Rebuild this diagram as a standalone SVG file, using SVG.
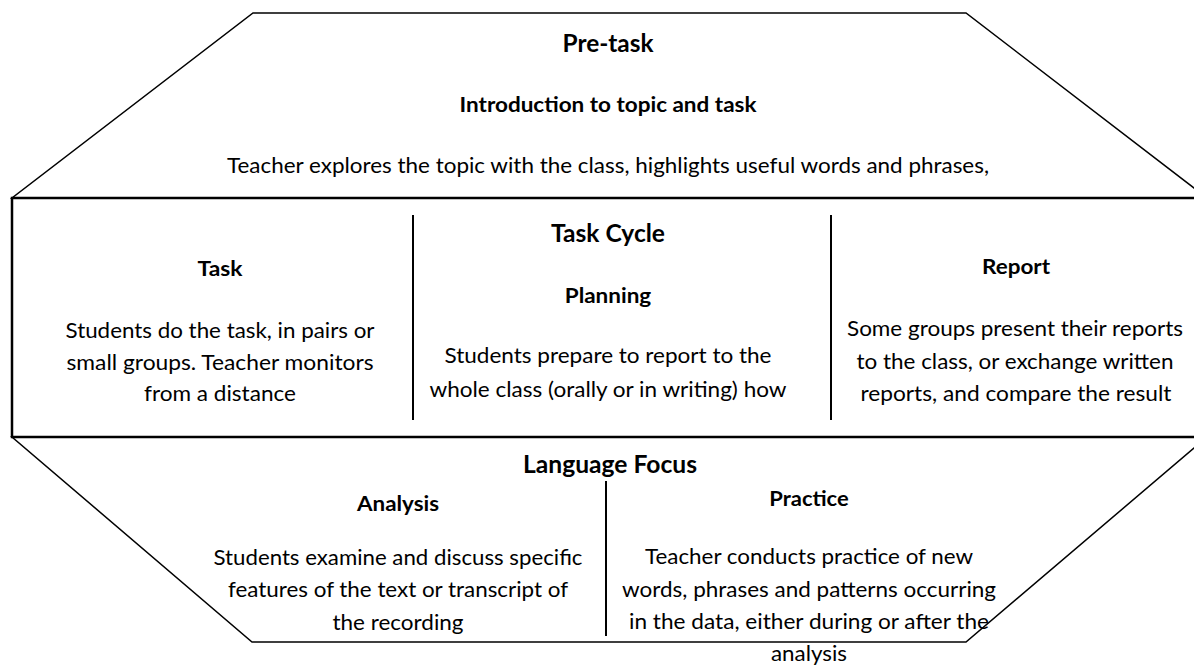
<svg xmlns="http://www.w3.org/2000/svg" width="1194" height="668" viewBox="0 0 1194 668">
  <style>
    .shape { fill: #ffffff; stroke: #000000; stroke-width: 1.5; stroke-linejoin: miter; }
    .box { fill: none; stroke: #000000; stroke-width: 2.5; }
    .div { stroke: #000000; stroke-width: 2; }
    text { font-family: Lato, "Open Sans", "Liberation Sans", sans-serif; fill: #000000; text-anchor: middle; }
    .t { font-size: 21.6px; }
    .h { font-size: 21.6px; font-weight: bold; }
    .hh { font-size: 24px; font-weight: bold; }
  </style>
  <rect x="0" y="0" width="1194" height="668" fill="#ffffff"/>

  <g id="pre-task">
    <path class="shape" d="M253,13 L966,13 L1207,198 L12,198 Z"/>
    <text class="hh" x="608" y="52" textLength="91" lengthAdjust="spacingAndGlyphs">Pre-task</text>
    <text class="h" x="608" y="112" textLength="297" lengthAdjust="spacingAndGlyphs">Introduction to topic and task</text>
    <text class="t" x="608" y="173" textLength="762" lengthAdjust="spacingAndGlyphs">Teacher explores the topic with the class, highlights useful words and phrases,</text>
  </g>

  <g id="language-focus">
    <path class="shape" d="M12,437 L1207,437 L966,642 L252,642 Z"/>
    <line class="div" x1="606" y1="481" x2="606" y2="636"/>
    <text class="hh" x="610" y="473" textLength="174" lengthAdjust="spacingAndGlyphs">Language Focus</text>
    <text class="h" x="398" y="511" textLength="82" lengthAdjust="spacingAndGlyphs">Analysis</text>
    <text class="t" x="398" y="565" textLength="369" lengthAdjust="spacingAndGlyphs">Students examine and discuss specific</text>
    <text class="t" x="398" y="597" textLength="340" lengthAdjust="spacingAndGlyphs">features of the text or transcript of</text>
    <text class="t" x="398" y="630" textLength="131" lengthAdjust="spacingAndGlyphs">the recording</text>
    <text class="h" x="809" y="506" textLength="79.5" lengthAdjust="spacingAndGlyphs">Practice</text>
    <text class="t" x="809" y="564" textLength="328" lengthAdjust="spacingAndGlyphs">Teacher conducts practice of new</text>
    <text class="t" x="809" y="597" textLength="374" lengthAdjust="spacingAndGlyphs">words, phrases and patterns occurring</text>
    <text class="t" x="809" y="629" textLength="360" lengthAdjust="spacingAndGlyphs">in the data, either during or after the</text>
    <text class="t" x="809" y="661" textLength="76" lengthAdjust="spacingAndGlyphs">analysis</text>
  </g>

  <g id="task-cycle">
    <rect class="box" x="12" y="198" width="1195" height="239"/>
    <line class="div" x1="413" y1="215" x2="413" y2="420"/>
    <line class="div" x1="831" y1="215" x2="831" y2="420"/>
    <text class="hh" x="608" y="242" textLength="114" lengthAdjust="spacingAndGlyphs">Task Cycle</text>
  </g>

  <g id="task">
    <text class="h" x="220" y="276" textLength="45" lengthAdjust="spacingAndGlyphs">Task</text>
    <text class="t" x="220" y="338" textLength="309" lengthAdjust="spacingAndGlyphs">Students do the task, in pairs or</text>
    <text class="t" x="220" y="370" textLength="307" lengthAdjust="spacingAndGlyphs">small groups. Teacher monitors</text>
    <text class="t" x="220" y="401" textLength="152" lengthAdjust="spacingAndGlyphs">from a distance</text>
  </g>

  <g id="planning">
    <text class="h" x="608" y="303" textLength="86.5" lengthAdjust="spacingAndGlyphs">Planning</text>
    <text class="t" x="608" y="363" textLength="327" lengthAdjust="spacingAndGlyphs">Students prepare to report to the</text>
    <text class="t" x="608" y="397" textLength="357" lengthAdjust="spacingAndGlyphs">whole class (orally or in writing) how</text>
  </g>

  <g id="report">
    <text class="h" x="1016" y="274" textLength="68" lengthAdjust="spacingAndGlyphs">Report</text>
    <text class="t" x="1015" y="336" textLength="336" lengthAdjust="spacingAndGlyphs">Some groups present their reports</text>
    <text class="t" x="1015" y="369" textLength="317" lengthAdjust="spacingAndGlyphs">to the class, or exchange written</text>
    <text class="t" x="1016" y="401" textLength="311" lengthAdjust="spacingAndGlyphs">reports, and compare the result</text>
  </g>

  <g id="connectors"></g>
</svg>
